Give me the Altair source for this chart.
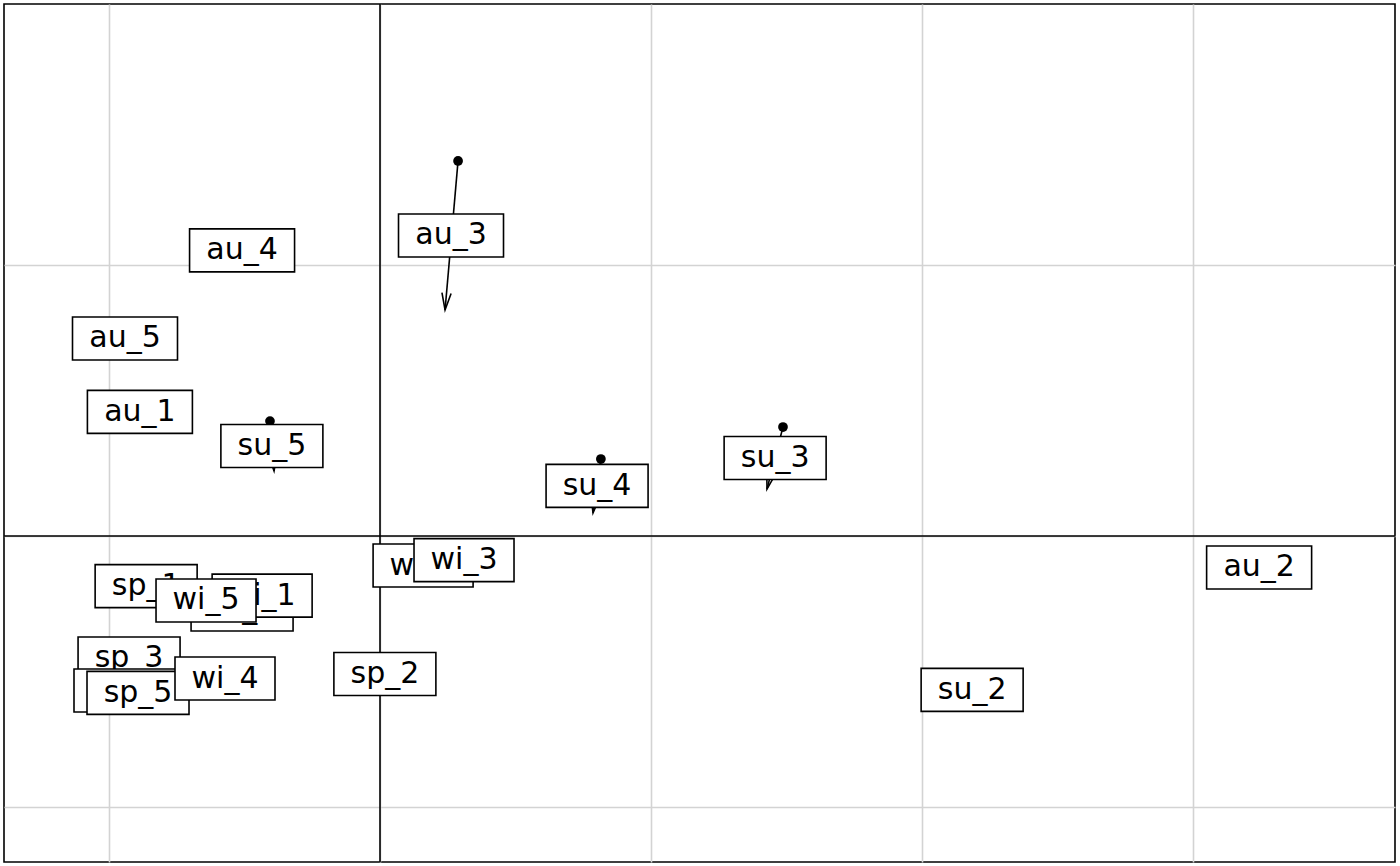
import math
import altair as alt
import pandas as pd

# Label positions (centre of each label box)
labels = ["sp_1", "sp_2", "sp_3", "sp_4", "sp_5",
          "su_1", "su_2", "su_3", "su_4", "su_5",
          "au_1", "au_2", "au_3", "au_4", "au_5",
          "wi_1", "wi_2", "wi_3", "wi_4", "wi_5"]
lab_x = [-0.863, 0.018, -0.926, -0.941, -0.893,
         -0.509, 2.185, 1.458, 0.801, -0.399,
         -0.886, 3.244, 0.262, -0.509, -0.941,
         -0.435, 0.159, 0.310, -0.572, -0.642]
lab_y = [-0.185, -0.509, -0.452, -0.570, -0.579,
         -0.271, -0.568, 0.288, 0.185, 0.332,
         0.458, -0.116, 1.109, 1.054, 0.729,
         -0.220, -0.109, -0.089, -0.526, -0.238]

# Visible arrows (start dot -> arrow end)
arr_names = ["au_3", "su_5", "su_4", "su_3"]
arr_x0 = [0.288, -0.406, 0.815, 1.487]
arr_y0 = [1.384, 0.424, 0.284, 0.402]
arr_x1 = [0.240, -0.391, 0.786, 1.428]
arr_y1 = [0.834, 0.240, 0.085, 0.173]

grid_x = [-1, 0, 1, 2, 3]
grid_y = [-1, 0, 1]

X_DOM = [-1.3875, 3.7454]
Y_DOM = [-1.2030, 1.9631]

lab_df = pd.DataFrame({"label": labels, "x": lab_x, "y": lab_y})
arr_df = pd.DataFrame({"name": arr_names, "x0": arr_x0, "y0": arr_y0,
                       "x1": arr_x1, "y1": arr_y1})
# angle: rotate a downward-pointing head clockwise; direction on screen = (dx, -dy)
arr_df["angle"] = [
    (math.degrees(math.atan2(-(x1 - x0), -(y1 - y0))) % 360)
    for x0, y0, x1, y1 in zip(arr_df.x0, arr_df.y0, arr_df.x1, arr_df.y1)
]

xs = alt.Scale(domain=X_DOM, nice=False, zero=False)
ys = alt.Scale(domain=Y_DOM, nice=False, zero=False)
ax_x = alt.Axis(labels=False, ticks=False, domain=False, title=None, grid=True,
                values=grid_x, gridColor="#d3d3d3", gridWidth=1.6)
ax_y = alt.Axis(labels=False, ticks=False, domain=False, title=None, grid=True,
                values=grid_y, gridColor="#d3d3d3", gridWidth=1.6)


def X(field):
    return alt.X(field, type="quantitative", scale=xs, axis=ax_x)


def Y(field):
    return alt.Y(field, type="quantitative", scale=ys, axis=ax_y)


layers = []
zero_df = pd.DataFrame({"z": [0]})
layers.append(alt.Chart(zero_df).mark_rule(color="black", strokeWidth=1.6).encode(x=X("z")))
layers.append(alt.Chart(zero_df).mark_rule(color="black", strokeWidth=1.6).encode(y=Y("z")))

layers.append(alt.Chart(arr_df).mark_rule(color="black", strokeWidth=1.6).encode(
    x=X("x0"), y=Y("y0"), x2="x1", y2="y1"))
layers.append(alt.Chart(arr_df).mark_point(
    shape="M-0.27,-1 L0,0 L0.27,-1", filled=False, stroke="black",
    strokeWidth=1.6, size=1156, opacity=1).encode(
    x=X("x1"), y=Y("y1"), angle=alt.Angle("angle:Q", scale=None)))
layers.append(alt.Chart(arr_df).mark_point(
    shape="circle", filled=True, color="black", size=95, opacity=1).encode(
    x=X("x0"), y=Y("y0")))

box_w = {"sp": 102, "su": 102, "au": 105, "wi": 100}
BOX_H = 43
for lab in labels:
    w = box_w[lab[:2]]
    h = BOX_H / w
    path = f"M-1,-{h:.4f} L1,-{h:.4f} L1,{h:.4f} L-1,{h:.4f} Z"
    base = alt.Chart(lab_df).transform_filter(alt.datum.label == lab)
    layers.append(base.mark_point(shape=path, size=w * w, filled=True,
                                  fill="white", stroke="black", strokeWidth=1.6,
                                  opacity=1).encode(x=X("x"), y=Y("y")))
    layers.append(base.mark_text(font="DejaVu Sans", fontSize=30, baseline="middle",
                                 align="center", dy=0, color="black").encode(
        x=X("x"), y=Y("y"), text="label:N"))

chart = alt.layer(*layers).properties(
    width=1391, height=858,
    padding={"left": 4, "top": 4, "right": 5, "bottom": 4},
    autosize=alt.AutoSizeParams(type="none"),
).configure_view(stroke="black", strokeWidth=1.6)

chart.save("out.html", embed_options={"renderer": "svg", "actions": False})
